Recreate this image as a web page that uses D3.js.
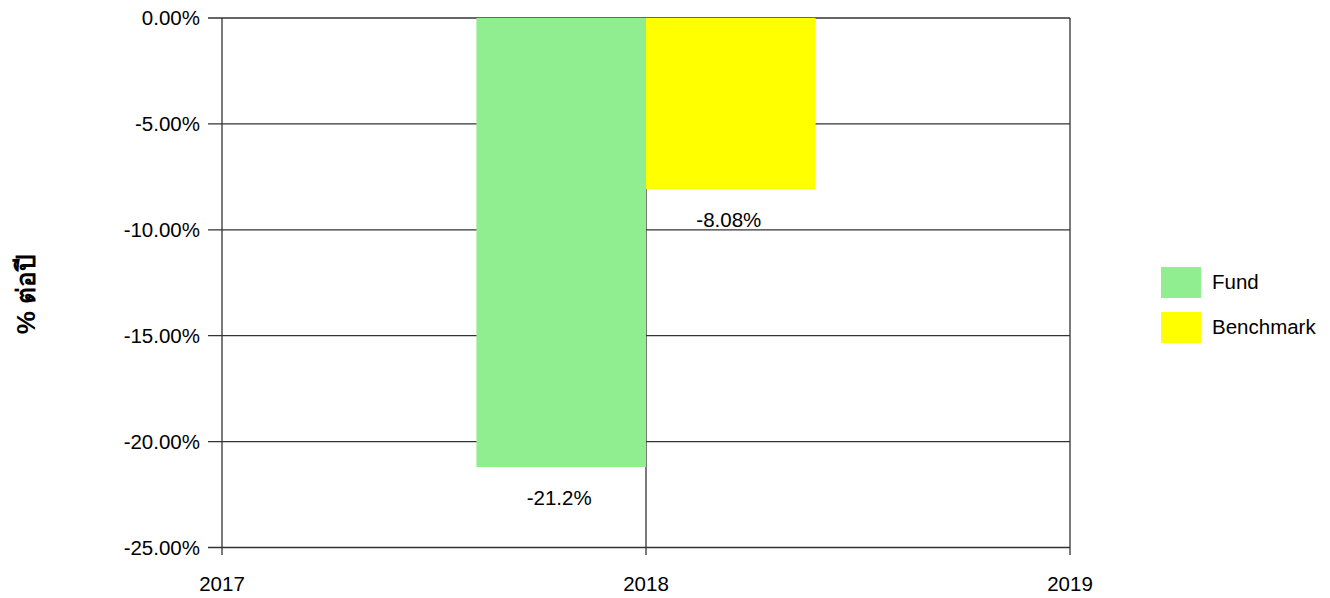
<!DOCTYPE html>
<html><head><meta charset="utf-8">
<script src="https://cdn.jsdelivr.net/npm/d3@7"></script>
<style>
body{margin:0;background:#fff;}
text{font-family:Arial,"Liberation Sans",sans-serif;fill:#000;}
</style></head>
<body><svg id="c" width="1330" height="598"></svg>
<script>
const categories = ["2017","2018","2019"];
const series = ["Fund","Benchmark"];
const colors = ["#90ee90","#ffff00"];
const barYear = "2018";
const fundValues = [-21.2];
const benchmarkValues = [-8.08];
const valueLabels = ["-21.2%","-8.08%"];
const yTicks = [0,-5,-10,-15,-20,-25];
const yTitle = "% ต่อปี";

const svg = d3.select("#c");
const L=222, R=1070, T=18, B=547.5;
const FS=20.5;
const x = d3.scalePoint().domain(categories).range([L,R]);
const y = d3.scaleLinear().domain([0,-25]).range([T,B]);
const step = x.step();
const sub = d3.scaleBand().domain(series).range([-step*0.4, step*0.4]).padding(0);

// grid
const g = svg.append("g");
g.selectAll(".hg").data(yTicks).join("line")
  .attr("x1",208).attr("x2",R).attr("y1",d=>y(d)).attr("y2",d=>y(d))
  .attr("stroke","#333").attr("stroke-width",1.3);
g.selectAll(".vg").data(categories).join("line")
  .attr("x1",d=>x(d)).attr("x2",d=>x(d)).attr("y1",T).attr("y2",555)
  .attr("stroke","#333").attr("stroke-width",1.3);

// bars
const vals = [fundValues[0], benchmarkValues[0]];
svg.selectAll(".bar").data(series).join("rect")
  .attr("x",(s)=>x(barYear)+sub(s))
  .attr("y",y(0))
  .attr("width",sub.bandwidth())
  .attr("height",(s,i)=>y(vals[i])-y(0))
  .attr("fill",(s,i)=>colors[i]);

svg.selectAll(".vl").data(series).join("text")
  .attr("x",(s)=>x(barYear)+sub(s)+sub.bandwidth()/2 - 2)
  .attr("y",(s,i)=>y(vals[i])+38)
  .attr("text-anchor","middle").attr("font-size",FS)
  .text((s,i)=>valueLabels[i]);

// y tick labels
svg.selectAll(".yt").data(yTicks).join("text")
  .attr("x",200).attr("y",d=>y(d)+7).attr("text-anchor","end")
  .attr("font-size",FS).text(d=>d.toFixed(2)+"%");
// x labels
svg.selectAll(".xt").data(categories).join("text")
  .attr("x",d=>x(d)).attr("y",591).attr("text-anchor","middle")
  .attr("font-size",FS).text(d=>d);

// y title
svg.append("text").attr("transform","translate(35,294) rotate(-90)")
  .attr("text-anchor","middle").attr("font-size",26).attr("font-weight","bold")
  .text(yTitle);

// legend
const lg = svg.append("g");
series.forEach((s,i)=>{
  lg.append("rect").attr("x",1161).attr("y",267+i*45).attr("width",40).attr("height",31).attr("fill",colors[i]);
  lg.append("text").attr("x",1212).attr("y",289+i*45).attr("font-size",FS).text(s);
});
</script></body></html>
